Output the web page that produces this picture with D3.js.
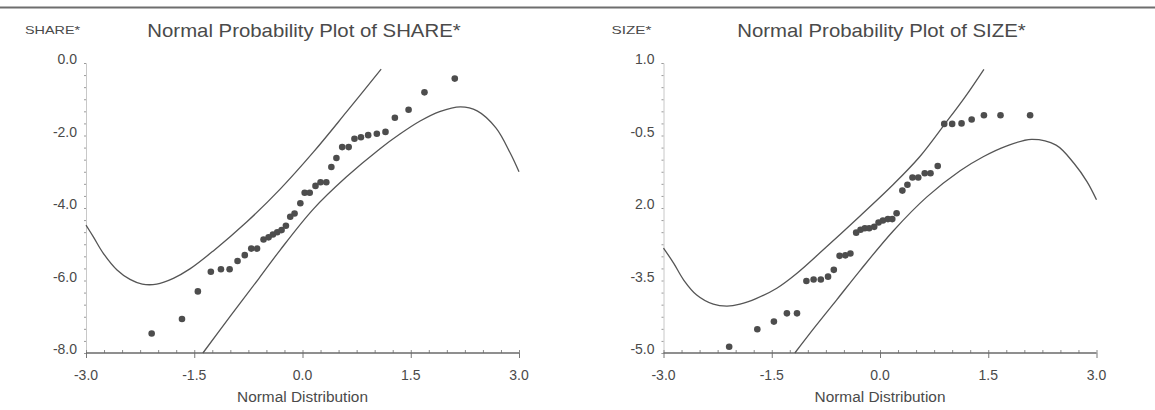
<!DOCTYPE html>
<html><head><meta charset="utf-8">
<script src="https://cdn.jsdelivr.net/npm/d3@7"></script>
<style>
html,body{margin:0;padding:0;background:#fff;}
svg{display:block;font-family:"Liberation Sans",Arial,sans-serif;}
</style></head>
<body><svg id="c" width="1155" height="410"></svg>
<script>
// ---------- data ----------
const xTickValues = [-3, -1.5, 0, 1.5, 3];
const xTickLabels = ["-3.0", "-1.5", "0.0", "1.5", "3.0"];
const xAxisTitle = "Normal Distribution";

const shareTitle = "Normal Probability Plot of SHARE*";
const shareYLabel = "SHARE*";
const shareYTicks = [0, -2, -4, -6, -8];
const shareYTickLabels = ["0.0", "-2.0", "-4.0", "-6.0", "-8.0"];
const shareX = [-2.09,-1.67,-1.45,-1.27,-1.13,-1.01,-0.90,-0.80,-0.71,-0.63,-0.54,-0.47,-0.41,-0.35,-0.29,-0.23,-0.17,-0.11,-0.03,0.03,0.10,0.18,0.25,0.33,0.40,0.47,0.55,0.64,0.72,0.81,0.91,1.03,1.15,1.28,1.47,1.69,2.11];
const shareY = [-7.46,-7.06,-6.30,-5.76,-5.69,-5.69,-5.46,-5.30,-5.12,-5.12,-4.87,-4.81,-4.73,-4.67,-4.61,-4.49,-4.24,-4.15,-3.87,-3.58,-3.58,-3.39,-3.29,-3.29,-2.87,-2.62,-2.32,-2.32,-2.09,-2.05,-1.99,-1.95,-1.90,-1.51,-1.29,-0.81,-0.43];
const shareUpperX = [-3.0,-2.90,-2.76,-2.57,-2.39,-2.22,-2.02,-1.79,-1.56,-1.24,-0.77,-0.31,0.15,0.61,1.09];
const shareUpperY = [-4.47,-4.79,-5.25,-5.71,-5.97,-6.10,-6.10,-5.94,-5.68,-5.19,-4.38,-3.48,-2.46,-1.35,-0.17];
const shareLowerX = [-1.38,-1.00,-0.61,-0.31,0.15,0.61,1.07,1.35,1.63,1.90,2.19,2.42,2.68,2.88,3.0];
const shareLowerY = [-8.0,-6.98,-5.96,-5.16,-4.03,-3.14,-2.37,-1.96,-1.60,-1.34,-1.21,-1.32,-1.79,-2.49,-3.0];

const sizeTitle = "Normal Probability Plot of SIZE*";
const sizeYLabel = "SIZE*";
const sizeYTicks = [1, -0.5, -2, -3.5, -5];
const sizeYTickLabels = ["1.0", "-0.5", "2.0", "-3.5", "-5.0"];
const sizeX = [-2.09,-1.70,-1.47,-1.29,-1.15,-1.02,-0.92,-0.82,-0.72,-0.64,-0.56,-0.48,-0.41,-0.33,-0.27,-0.21,-0.15,-0.08,-0.02,0.04,0.11,0.17,0.23,0.31,0.38,0.45,0.53,0.62,0.70,0.80,0.89,1.00,1.13,1.27,1.44,1.67,2.08];
const sizeY = [-4.87,-4.51,-4.35,-4.18,-4.18,-3.51,-3.48,-3.48,-3.42,-3.28,-2.99,-2.98,-2.94,-2.51,-2.45,-2.42,-2.42,-2.39,-2.30,-2.26,-2.23,-2.23,-2.11,-1.64,-1.52,-1.37,-1.37,-1.28,-1.28,-1.13,-0.26,-0.26,-0.25,-0.17,-0.08,-0.08,-0.08];
const sizeUpperX = [-3.0,-2.86,-2.72,-2.54,-2.31,-2.12,-1.94,-1.71,-1.43,-1.15,-0.79,-0.28,0.18,0.55,0.90,1.18,1.44];
const sizeUpperY = [-2.83,-3.14,-3.49,-3.80,-3.99,-4.03,-3.99,-3.87,-3.66,-3.35,-2.87,-2.17,-1.52,-0.94,-0.26,0.30,0.87];
const sizeLowerX = [-1.18,-0.89,-0.60,-0.28,0.18,0.65,1.11,1.43,1.75,2.10,2.44,2.69,2.87,3.0];
const sizeLowerY = [-5.0,-4.44,-3.90,-3.30,-2.48,-1.77,-1.23,-0.94,-0.72,-0.58,-0.70,-1.08,-1.46,-1.83];

// ---------- drawing ----------
const svg = d3.select("#c");
const INK = "#4a4a4a";

svg.append("rect").attr("width",1155).attr("height",410).attr("fill","#fff");
svg.append("line").attr("x1",0).attr("x2",1155).attr("y1",7.5).attr("y2",7.5)
  .attr("stroke","#6e6e6e").attr("stroke-width",2);

function stretch(sel, factor){
  sel.each(function(){
    const w = this.getComputedTextLength();
    d3.select(this).attr("textLength", w*factor).attr("lengthAdjust","spacingAndGlyphs");
  });
}

function panel(cfg){
  const g = svg.append("g");
  const x = d3.scaleLinear().domain([-3,3]).range([cfg.x0, cfg.x1]);
  const y = d3.scaleLinear().domain(cfg.yDomain).range([353, 63]);

  // y axis (faint)
  const ya = g.append("g").attr("transform",`translate(${cfg.x0},0)`)
    .call(d3.axisLeft(y).tickValues(d3.range(0,25).map(i=>cfg.yDomain[0]+(cfg.yDomain[1]-cfg.yDomain[0])*i/24)).tickSize(2).tickFormat(""));
  ya.select(".domain").attr("stroke","#c8c8c8").attr("stroke-width",1);
  ya.selectAll(".tick line").attr("stroke","#9a9a9a");
  g.selectAll(".ylab").data(cfg.yTicks).enter().append("text")
    .attr("x", cfg.x0-9).attr("y", d=>y(d)+1)
    .attr("text-anchor","end").attr("font-size",14).attr("fill",INK)
    .text((d,i)=>cfg.yTickLabels[i]);

  // x axis
  const xa = g.append("g").attr("transform","translate(0,353)")
    .call(d3.axisBottom(x).tickValues(d3.range(-3,3.001,0.25)).tickSize(-3).tickFormat(""));
  xa.select(".domain").remove();
  xa.selectAll(".tick line").attr("stroke","#8a8a8a");
  const xm = g.append("g").attr("transform","translate(0,353)")
    .call(d3.axisBottom(x).tickValues(xTickValues).tickSize(5).tickFormat(""));
  xm.select(".domain").remove();
  xm.selectAll(".tick line").attr("stroke","#777");
  g.append("line").attr("x1",cfg.x0).attr("x2",cfg.x1).attr("y1",353).attr("y2",353)
    .attr("stroke","#6a6a6a").attr("stroke-width",1.4);
  g.selectAll(".xlab").data(xTickValues).enter().append("text")
    .attr("x", d=>x(d)).attr("y",380).attr("text-anchor","middle")
    .attr("font-size",14).attr("fill",INK).text((d,i)=>xTickLabels[i]);
  g.append("text").attr("x",x(0)).attr("y",401.5).attr("text-anchor","middle")
    .attr("font-size",14).attr("fill",INK).text(xAxisTitle).call(stretch,1.1);

  // titles
  g.append("text").attr("x",cfg.titleX).attr("y",36.5).attr("text-anchor","middle")
    .attr("font-size",18.5).attr("fill",INK).text(cfg.title).call(stretch,1.1);
  g.append("text").attr("x",cfg.ylabX).attr("y",33.5).attr("text-anchor","start")
    .attr("font-size",11.6).attr("fill",INK).text(cfg.ylab).call(stretch,cfg.ylabStretch);

  // curves
  const line = d3.line().x(d=>x(d[0])).y(d=>y(d[1])).curve(d3.curveCatmullRom.alpha(0.5));
  [[cfg.ux,cfg.uy],[cfg.lx,cfg.ly]].forEach(([xs,ys])=>{
    g.append("path").attr("d", line(xs.map((v,i)=>[v,ys[i]])))
      .attr("fill","none").attr("stroke","#555").attr("stroke-width",1.3);
  });

  // points
  g.selectAll(".pt").data(cfg.px.map((v,i)=>[v,cfg.py[i]])).enter().append("circle")
    .attr("cx",d=>x(d[0])).attr("cy",d=>y(d[1])).attr("r",3.3).attr("fill","#4d4d4d");
}

panel({x0:86, x1:519, yDomain:[-8,0], yTicks:shareYTicks, yTickLabels:shareYTickLabels,
  title:shareTitle, titleX:304, ylab:shareYLabel, ylabX:25, ylabStretch:1.24,
  px:shareX, py:shareY, ux:shareUpperX, uy:shareUpperY, lx:shareLowerX, ly:shareLowerY});
panel({x0:663.5, x1:1096.5, yDomain:[-5,1], yTicks:sizeYTicks, yTickLabels:sizeYTickLabels,
  title:sizeTitle, titleX:881.5, ylab:sizeYLabel, ylabX:611.5, ylabStretch:1.32,
  px:sizeX, py:sizeY, ux:sizeUpperX, uy:sizeUpperY, lx:sizeLowerX, ly:sizeLowerY});
</script></body></html>
